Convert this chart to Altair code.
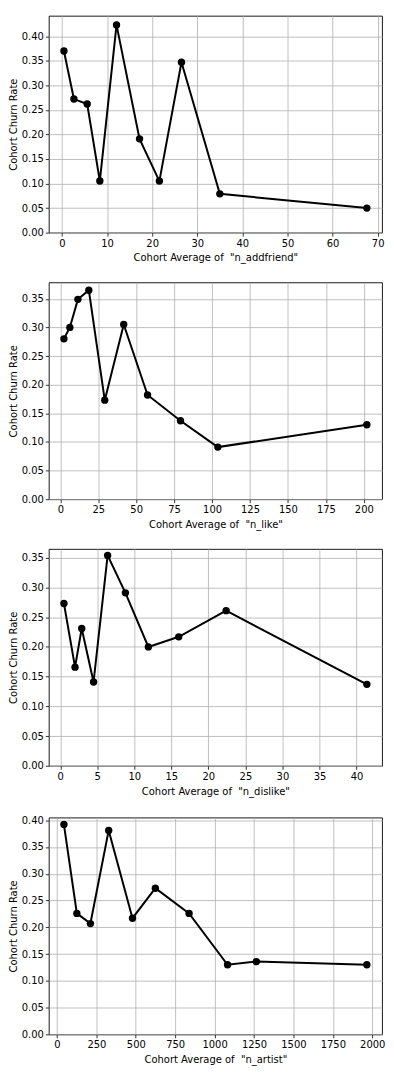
import altair as alt
import pandas as pd

# --- data ---
addfriend_x = [0.44, 2.65, 5.6, 8.4, 12.1, 17.2, 21.6, 26.5, 35.0, 67.6]
addfriend_y = [0.370, 0.272, 0.262, 0.105, 0.423, 0.191, 0.105, 0.347, 0.079, 0.050]

like_x = [2.4, 6.3, 11.6, 18.8, 29.3, 41.8, 57.5, 79.2, 103.8, 202.0]
like_y = [0.280, 0.300, 0.349, 0.365, 0.173, 0.305, 0.182, 0.137, 0.091, 0.130]

dislike_x = [0.5, 2.0, 2.9, 4.5, 6.4, 8.8, 11.9, 16.0, 22.4, 41.4]
dislike_y = [0.273, 0.166, 0.231, 0.141, 0.354, 0.291, 0.200, 0.217, 0.261, 0.137]

artist_x = [44, 126, 212, 328, 479, 624, 838, 1082, 1265, 1966]
artist_y = [0.392, 0.226, 0.207, 0.381, 0.217, 0.273, 0.226, 0.130, 0.136, 0.130]

features = ["n_addfriend", "n_like", "n_dislike", "n_artist"]
x_ticks = [
    [0, 10, 20, 30, 40, 50, 60, 70],
    [0, 25, 50, 75, 100, 125, 150, 175, 200],
    [0, 5, 10, 15, 20, 25, 30, 35, 40],
    [0, 250, 500, 750, 1000, 1250, 1500, 1750, 2000],
]
y_ticks = [0.0, 0.05, 0.10, 0.15, 0.20, 0.25, 0.30, 0.35, 0.40]

series = [(addfriend_x, addfriend_y), (like_x, like_y), (dislike_x, dislike_y), (artist_x, artist_y)]


def panel(xs, ys, name, xt):
    df = pd.DataFrame({"x": xs, "y": ys})
    xr = max(xs) - min(xs)
    xdom = [min(xs) - 0.05 * xr, max(xs) + 0.05 * xr]
    ydom = [0, max(ys) + 0.05 * (max(ys) - min(ys))]
    ymax_tick = [t for t in y_ticks if t <= ydom[1]]
    x_enc = alt.X("x:Q", scale=alt.Scale(domain=xdom, nice=False, zero=False),
                  axis=alt.Axis(values=xt, format="d",
                                title=f'Cohort Average of \u00a0"{name}"',
                                titlePadding=5))
    y_enc = alt.Y("y:Q", scale=alt.Scale(domain=ydom, nice=False),
                  axis=alt.Axis(values=ymax_tick, format=".2f",
                                title="Cohort Churn Rate", titlePadding=2.5))
    base = alt.Chart(df).encode(x=x_enc, y=y_enc)
    line = base.mark_line(color="black", strokeWidth=2)
    pts = base.mark_point(filled=True, color="black", size=55, opacity=1)
    return alt.layer(line, pts).properties(width=335, height=218)


charts = [panel(xs, ys, n, xt) for (xs, ys), n, xt in zip(series, features, x_ticks)]

chart = alt.vconcat(*charts, spacing=18).properties(
    padding={"left": 0, "top": 4, "right": 0, "bottom": 0}
).configure(font="DejaVu Sans").configure_view(
    stroke="black", strokeWidth=0.9
).configure_axis(
    domain=False,
    grid=True,
    gridColor="#b0b0b0",
    gridWidth=0.8,
    tickColor="black",
    tickSize=3.5,
    tickWidth=0.8,
    labelFont="DejaVu Sans",
    labelFontSize=10,
    labelColor="black",
    labelPadding=2,
    titleFont="DejaVu Sans",
    titleFontSize=10,
    titleFontWeight="normal",
    titleColor="black",
)

chart.save("out.html", embed_options={"renderer": "svg", "actions": False})
